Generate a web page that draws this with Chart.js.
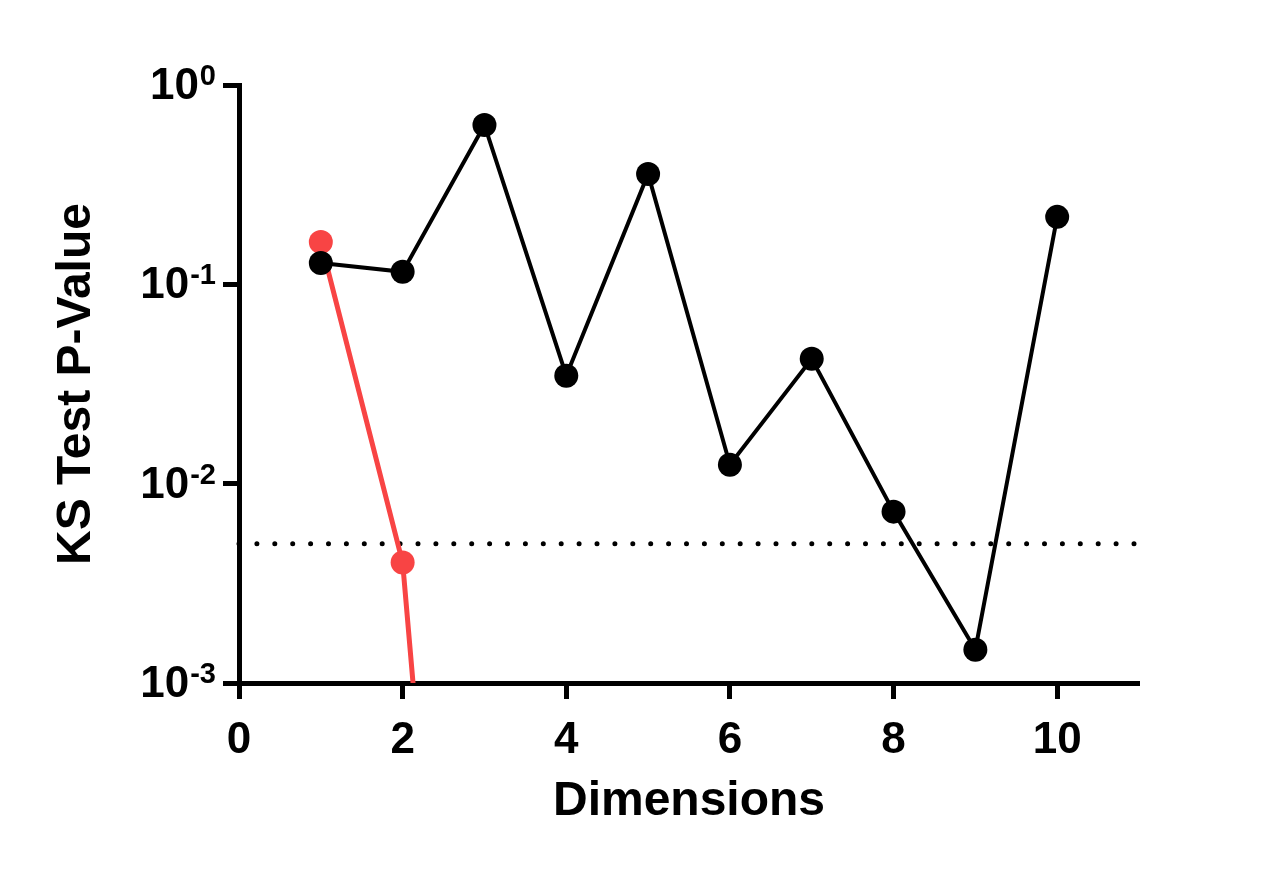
<!DOCTYPE html>
<html>
<head>
<meta charset="utf-8">
<title>KS Test P-Value vs Dimensions</title>
<script src="https://cdn.jsdelivr.net/npm/chart.js@4.4.1/dist/chart.umd.min.js"></script>
<style>
  html, body { margin: 0; padding: 0; background: #fff; }
  #wrap { width: 1278px; height: 870px; position: relative; }
</style>
</head>
<body>
<div id="wrap"><canvas id="ksChart"></canvas></div>
<script>
/* KS test p-value by dimension */

const BLACK = '#000000';
const RED   = '#f84444';
const FONT  = '"Liberation Sans", Arial, sans-serif';

// data
const dims        = [1, 2, 3, 4, 5, 6, 7, 8, 9, 10];
const pBlack      = [0.128, 0.1155, 0.63, 0.0348, 0.358, 0.01245, 0.0423, 0.00724, 0.00147, 0.218];
const redDims     = [1, 2, 3];
const pRed        = [0.163, 0.00402, 7e-8];
const cutoff      = 0.005;
const cutoffRange = [0, 11];

// axes
const xTicks     = [0, 2, 4, 6, 8, 10];
const yExponents = [0, -1, -2, -3];
const xTitle     = 'Dimensions';
const yTitle     = 'KS Test P-Value';

const toPts = (xs, ys) => xs.map((x, i) => ({ x, y: ys[i] }));

/* ── labels drawn with superscript exponents ─────────────────── */
const labelPlugin = {
  id: 'labels',
  afterDraw(chart) {
    const { ctx, scales: { x, y }, chartArea } = chart;
    ctx.save();
    ctx.fillStyle = BLACK;

    // y tick labels: 10 + superscript
    yExponents.forEach(e => {
      const py = y.getPixelForValue(Math.pow(10, e));
      const sup = e === 0 ? '0' : '-' + Math.abs(e);
      const right = 216;
      ctx.font = 'bold 29px ' + FONT;
      ctx.textAlign = 'right';
      ctx.textBaseline = 'alphabetic';
      ctx.fillText(sup, right, py);
      const supW = ctx.measureText(sup).width;
      ctx.font = 'bold 44px ' + FONT;
      ctx.fillText('10', right - supW - 1, py + 14);
    });

    // x tick labels
    ctx.font = 'bold 44px ' + FONT;
    ctx.textAlign = 'center';
    xTicks.forEach(v => {
      ctx.fillText(String(v), x.getPixelForValue(v), 753);
    });

    // axis titles
    ctx.font = 'bold 48px ' + FONT;
    ctx.fillText(xTitle, (chartArea.left + chartArea.right) / 2, 815);

    ctx.translate(90, (chartArea.top + chartArea.bottom) / 2);
    ctx.rotate(-Math.PI / 2);
    ctx.fillText(yTitle, 0, 0);
    ctx.restore();
  }
};

new Chart(document.getElementById('ksChart'), {
  type: 'line',
  data: {
    datasets: [
      {
        label: 'cutoff',
        data: toPts(cutoffRange, [cutoff, cutoff]),
        borderColor: BLACK, borderWidth: 5,
        borderDash: [0, 17.9], borderCapStyle: 'round',
        pointRadius: 0, order: 3, clip: false
      },
      {
        label: 'red',
        data: toPts(redDims, pRed),
        borderColor: RED, backgroundColor: RED,
        borderWidth: 5, pointRadius: 12, pointBorderWidth: 0,
        order: 2
      },
      {
        label: 'black',
        data: toPts(dims, pBlack),
        borderColor: BLACK, backgroundColor: BLACK,
        borderWidth: 4, pointRadius: 12, pointBorderWidth: 0,
        order: 1
      }
    ]
  },
  options: {
    responsive: true,
    maintainAspectRatio: false,
    animation: false,
    layout: { padding: { left: 223, right: 139, top: 85, bottom: 171 } },
    plugins: { legend: { display: false }, tooltip: { enabled: false } },
    scales: {
      x: {
        type: 'linear', min: 0, max: 11,
        afterBuildTicks: s => { s.ticks = xTicks.map(v => ({ value: v })); },
        grid: { display: true, drawOnChartArea: false, drawTicks: true, tickLength: 16, tickWidth: 5, color: BLACK },
        border: { display: true, width: 5, color: BLACK },
        ticks: { display: false }
      },
      y: {
        type: 'logarithmic', min: 0.001, max: 1,
        afterBuildTicks: s => { s.ticks = yExponents.map(e => ({ value: Math.pow(10, e) })); },
        grid: { display: true, drawOnChartArea: false, drawTicks: true, tickLength: 16, tickWidth: 5, color: BLACK },
        border: { display: true, width: 5, color: BLACK },
        ticks: { display: false }
      }
    }
  },
  plugins: [labelPlugin]
});
</script>
</body>
</html>
